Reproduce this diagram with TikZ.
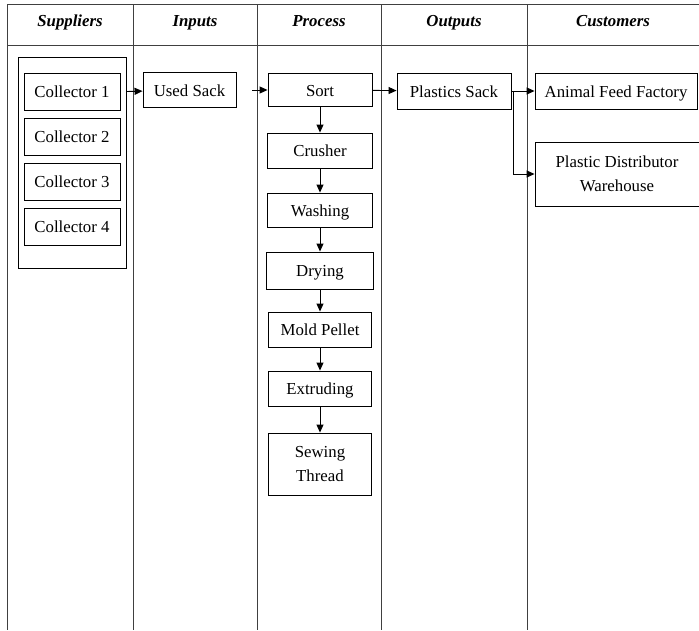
\documentclass[tikz,border=0pt]{standalone}
\usepackage{fontspec}
\setmainfont{Liberation Serif}
\usetikzlibrary{arrows.meta}

\begin{document}
\begin{tikzpicture}[x=1pt,y=-1pt,
    every node/.style={font=\fontsize{16.8}{24}\selectfont},
    box/.style={draw,line width=0.9pt,inner sep=2pt,align=center},
    one/.style={text height=13.5pt,text depth=1.5pt},
    head/.style={font=\fontsize{16.8}{20}\selectfont\bfseries\itshape,text height=11.5pt,text depth=3.5pt},
    lane/.style={line width=0.9pt,draw=black!75},
    arr/.style={-{Triangle[length=8pt,width=7pt]},line width=0.9pt}]
    \useasboundingbox(0,0)rectangle(699,630);

    % lanes
    \draw[lane](7,4)--(699,4);
    \draw[lane](7,45)--(699,45);
    \draw[lane](7,4)--(7,630);
    \draw[lane](133,4)--(133,630);
    \draw[lane](257,4)--(257,630);
    \draw[lane](381,4)--(381,630);
    \draw[lane](527,4)--(527,630);

    \node[head](hsup)at(70,22){Suppliers};
    \node[head](hinp)at(195,22){Inputs};
    \node[head](hpro)at(319,22){Process};
    \node[head](hout)at(454,22){Outputs};
    \node[head](hcus)at(613,22){Customers};

    % suppliers
    \node[box,minimum width=108,minimum height=211](supp)at(72,162.5){};
    \node[box,one,minimum width=96,minimum height=37](col1)at(72,91.5){Collector 1};
    \node[box,one,minimum width=96,minimum height=37](col2)at(72,136.5){Collector 2};
    \node[box,one,minimum width=96,minimum height=37](col3)at(72,181.5){Collector 3};
    \node[box,one,minimum width=96,minimum height=37](col4)at(72,226.5){Collector 4};

    % inputs
    \node[box,one,minimum width=93,minimum height=35](used)at(189.5,90){Used Sack};

    % process
    \node[box,one,minimum width=104,minimum height=33](sort)at(320,90){Sort};
    \node[box,one,minimum width=105,minimum height=35](crush)at(320,150.5){Crusher};
    \node[box,one,minimum width=105,minimum height=34](wash)at(320,210){Washing};
    \node[box,one,minimum width=107,minimum height=37](dry)at(320,270.5){Drying};
    \node[box,one,minimum width=103,minimum height=35](mold)at(320,329.5){Mold Pellet};
    \node[box,one,minimum width=103,minimum height=35](extr)at(320,388.5){Extruding};
    \node[box,minimum width=103,minimum height=62](sew)at(320,464){Sewing\\Thread};

    % outputs
    \node[box,one,minimum width=114,minimum height=36](plast)at(454,91){Plastics Sack};

    % customers
    \node[box,one,minimum width=162,minimum height=36](feed)at(616,91){Animal Feed Factory};
    \node[box,minimum width=164,minimum height=64](ware)at(617,174){Plastic Distributor\\Warehouse};

    \draw[arr](supp.east|-col1)--(used);
    \draw[arr,shorten <=16pt](used)--(sort);
    \draw[arr](sort)--(plast);
    \draw[arr](sort)--(crush);
    \draw[arr](crush)--(wash);
    \draw[arr](wash)--(dry);
    \draw[arr](dry)--(mold);
    \draw[arr](mold)--(extr);
    \draw[arr](extr)--(sew);
    \draw[arr](plast.east)--(feed.west|-plast.east);
    \draw[arr](plast.east)--++(2,0)|-(ware.west);
\end{tikzpicture}
\end{document}
